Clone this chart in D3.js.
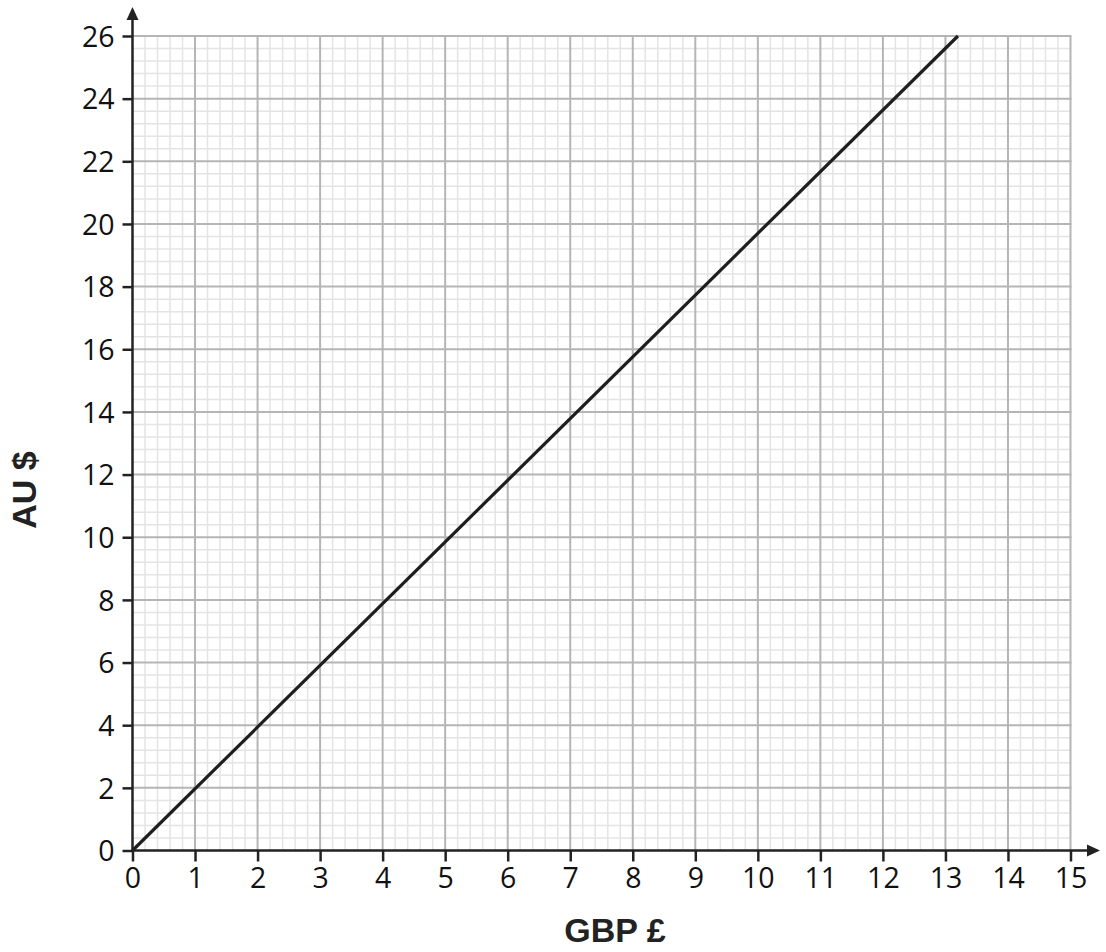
<!DOCTYPE html>
<html><head><meta charset="utf-8">
<script src="https://cdn.jsdelivr.net/npm/d3@7"></script>
<style>body{margin:0;background:#fff}</style>
</head><body><svg id="c" width="1106" height="952"></svg>
<script>
const xTicks = [0,1,2,3,4,5,6,7,8,9,10,11,12,13,14,15];
const yTicks = [0,2,4,6,8,10,12,14,16,18,20,22,24,26];
const gbp = [0, 13.2];
const aud = [0, 26];
const xLabel = "GBP £";
const yLabel = "AU $";

const svg = d3.select("#c");
const x = d3.scaleLinear().domain([0,15]).range([132.5,1070.5]);
const y = d3.scaleLinear().domain([0,26]).range([850.5,36]);

const g = svg.append("g");
// minor grid
const xMinor = d3.range(0,15.001,0.2).map(v=>+v.toFixed(2)).filter(v=>Math.abs(v-Math.round(v))>1e-6);
const yMinor = d3.range(0,26.001,0.4).map(v=>+v.toFixed(2)).filter(v=>Math.abs(v/2-Math.round(v/2))>1e-6);
g.selectAll(".vm").data(xMinor).join("line")
  .attr("x1",d=>x(d)).attr("x2",d=>x(d)).attr("y1",y(0)).attr("y2",y(26))
  .attr("stroke","#e4e4e4").attr("stroke-width",1.5);
g.selectAll(".hm").data(yMinor).join("line")
  .attr("y1",d=>y(d)).attr("y2",d=>y(d)).attr("x1",x(0)).attr("x2",x(15))
  .attr("stroke","#e4e4e4").attr("stroke-width",1.5);
// major grid
g.selectAll(".vM").data(xTicks.slice(1)).join("line")
  .attr("x1",d=>x(d)).attr("x2",d=>x(d)).attr("y1",y(0)).attr("y2",y(26))
  .attr("stroke","#b5b5b5").attr("stroke-width",2);
g.selectAll(".hM").data(yTicks.slice(1)).join("line")
  .attr("y1",d=>y(d)).attr("y2",d=>y(d)).attr("x1",x(0)).attr("x2",x(15)+1)
  .attr("stroke","#b5b5b5").attr("stroke-width",2);

// axes
const axCol = "#222";
const fs = "28.5px";
const xAxis = d3.axisBottom(x).tickValues(xTicks).tickSize(11).tickPadding(5).tickSizeOuter(0);
const xg = svg.append("g").attr("transform",`translate(0,${y(0)})`).call(xAxis);
xg.select(".domain").remove();
xg.selectAll(".tick line").attr("stroke",axCol).attr("stroke-width",2.5);
xg.selectAll(".tick text").attr("fill","#111").style("font-family","'Open Sans', sans-serif").style("font-size",fs).attr("dy","0.75em");

const yAxis = d3.axisLeft(y).tickValues(yTicks).tickSize(10).tickPadding(8).tickSizeOuter(0);
const yg = svg.append("g").attr("transform",`translate(${x(0)},0)`).call(yAxis);
yg.select(".domain").remove();
yg.selectAll(".tick line").attr("stroke",axCol).attr("stroke-width",2.5);
yg.selectAll(".tick text").attr("fill","#111").style("font-family","'Open Sans', sans-serif").style("font-size",fs).attr("dy","0.36em");

// axis lines with arrows
svg.append("line").attr("x1",x(0)).attr("x2",1092).attr("y1",y(0)).attr("y2",y(0)).attr("stroke",axCol).attr("stroke-width",2.5);
svg.append("path").attr("d",`M1100,${y(0)} L1087,${y(0)-6} L1087,${y(0)+6} Z`).attr("fill",axCol);
svg.append("line").attr("x1",x(0)).attr("x2",x(0)).attr("y1",y(0)+1).attr("y2",16).attr("stroke",axCol).attr("stroke-width",2.5);
svg.append("path").attr("d",`M${x(0)},7 L${x(0)-6},20 L${x(0)+6},20 Z`).attr("fill",axCol);

// data line
const pts = gbp.map((v,i)=>[v,aud[i]]);
svg.append("path").datum(pts)
  .attr("d",d3.line().x(d=>x(d[0])).y(d=>y(d[1])))
  .attr("fill","none").attr("stroke","#1e1e1e").attr("stroke-width",3.2);

// labels
svg.append("text").attr("x",615).attr("y",942).attr("text-anchor","middle")
  .style("font-family","'Liberation Sans', Arial, sans-serif").style("font-weight","bold").style("font-size","34px")
  .attr("fill","#222").text(xLabel);
svg.append("text").attr("transform","translate(36,490) rotate(-90)").attr("text-anchor","middle")
  .style("font-family","'Liberation Sans', Arial, sans-serif").style("font-weight","bold").style("font-size","34px")
  .attr("fill","#222").text(yLabel);
</script></body></html>
